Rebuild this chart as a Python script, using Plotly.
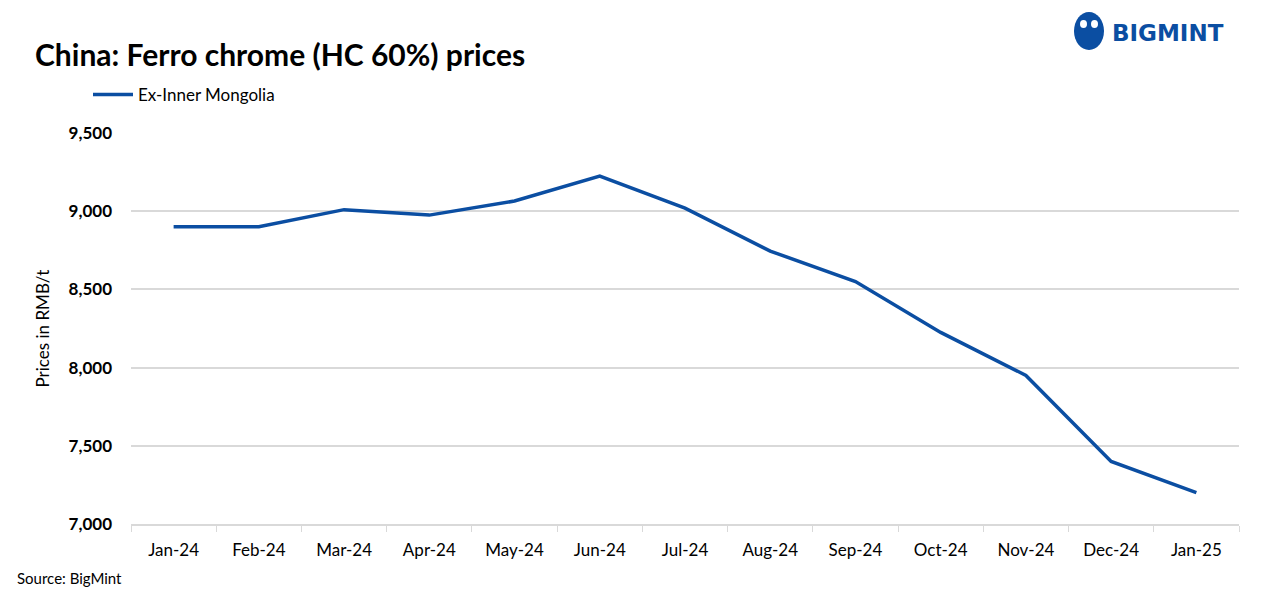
import plotly.graph_objects as go

months = ["Jan-24", "Feb-24", "Mar-24", "Apr-24", "May-24", "Jun-24", "Jul-24",
          "Aug-24", "Sep-24", "Oct-24", "Nov-24", "Dec-24", "Jan-25"]
ex_inner_mongolia = [8900, 8900, 9010, 8975, 9065, 9225, 9020, 8745, 8550, 8225, 7950, 7400, 7200]
y_ticks = [7000, 7500, 8000, 8500, 9000, 9500]

FONT = "Lato"
BLUE = "#0B4EA2"

L, R, T, B = 131, 35, 133, 79
PW, PH = 1274 - L - R, 603 - T - B


def px(x):
    return (x - L) / PW


def py(y):
    return (603 - B - y) / PH


fig = go.Figure()
fig.add_trace(go.Scatter(
    x=months, y=ex_inner_mongolia, mode="lines", name="Ex-Inner Mongolia",
    line=dict(color=BLUE, width=3.5),
))

fig.update_layout(
    width=1274, height=603,
    paper_bgcolor="white", plot_bgcolor="white",
    margin=dict(l=L, r=R, t=T, b=B, autoexpand=False),
    font=dict(family=FONT, color="#000000"),
    title=dict(text="<b>China: Ferro chrome (HC 60%) prices</b>", x=35 / 1274, xanchor="left",
               y=1 - 55 / 603, yanchor="middle", font=dict(size=30, family=FONT, color="#000000")),
    showlegend=True,
    legend=dict(orientation="h", x=px(88), y=py(95), yanchor="middle",
                xanchor="left", font=dict(size=17, family=FONT), itemwidth=40,
                bgcolor="rgba(0,0,0,0)"),
    xaxis=dict(type="category", range=[-0.5, len(months) - 0.5], showgrid=False,
               showline=True, linecolor="#D9D9D9",
               linewidth=1.5, ticks="outside", tickson="boundaries", ticklen=6,
               tickcolor="#D9D9D9", tickfont=dict(size=17, family=FONT, color="#000"),
               ticklabelstandoff=10),
    yaxis=dict(range=[7000, 9500], tickvals=y_ticks, tickformat=",", showgrid=True,
               gridcolor="#D9D9D9", gridwidth=1.5, zeroline=False, showline=False,
               tickfont=dict(size=17, family=FONT, color="#000", weight="bold"),
               ticklabelstandoff=18,
               title=dict(text="Prices in RMB/t", font=dict(size=17, family=FONT), standoff=14)),
)

fig.add_annotation(text="Source: BigMint", xref="paper", yref="paper",
                   x=px(15), y=py(578), xanchor="left", yanchor="middle",
                   showarrow=False, font=dict(size=15, family=FONT, color="#000"))

# Logo
fig.add_annotation(text="<b>BIGMINT</b>", xref="paper", yref="paper",
                   x=px(1226), y=py(33), xanchor="right", yanchor="middle",
                   showarrow=False, font=dict(size=23, family="DejaVu Sans", color=BLUE))
fig.add_shape(type="circle", xref="paper", yref="paper",
              x0=px(1074), x1=px(1104), y0=py(50), y1=py(12),
              fillcolor=BLUE, line=dict(color=BLUE, width=0))
fig.add_shape(type="circle", xref="paper", yref="paper",
              x0=px(1080), x1=px(1087), y0=py(28), y1=py(20),
              fillcolor="white", line=dict(color="white", width=0))
fig.add_shape(type="circle", xref="paper", yref="paper",
              x0=px(1091), x1=px(1098), y0=py(28), y1=py(20),
              fillcolor="white", line=dict(color="white", width=0))

fig.write_html("out.html", config={"displayModeBar": False},
               post_script="document.body.style.margin='0';")
